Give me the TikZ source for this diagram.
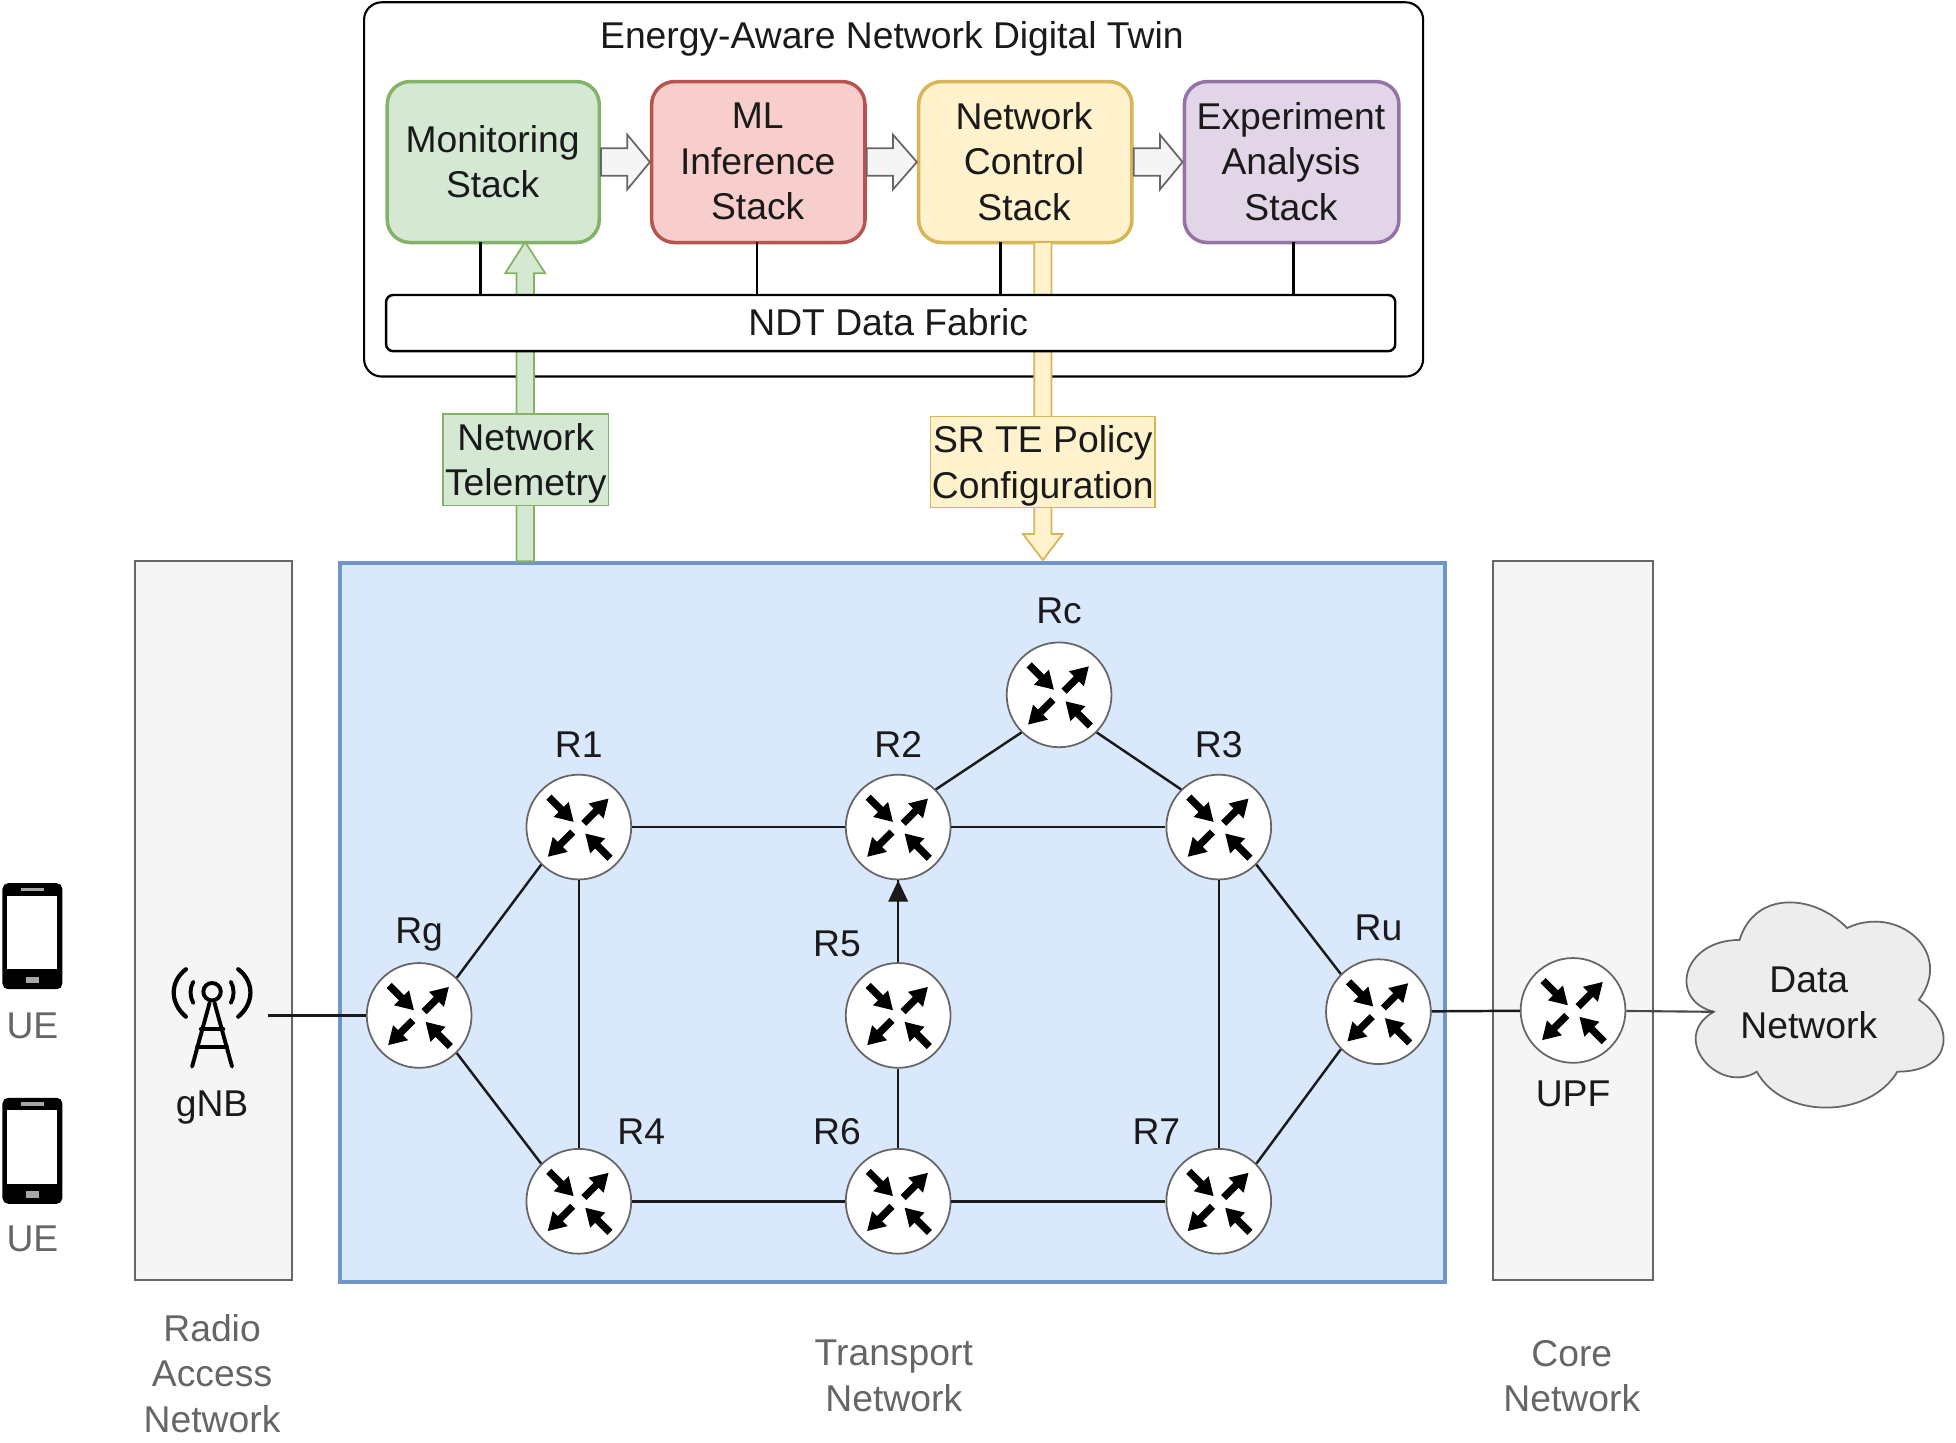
\documentclass[tikz,border=0pt]{standalone}
\usepackage{fontspec}
\setmainfont{Liberation Sans}
\usetikzlibrary{calc}
\definecolor{txt}{HTML}{1A1A1A}
\definecolor{graytxt}{HTML}{666666}
\definecolor{edgegray}{HTML}{666666}
\definecolor{gfill}{HTML}{D5E8D4}\definecolor{gline}{HTML}{82B366}
\definecolor{rfill}{HTML}{F8CECC}\definecolor{rline}{HTML}{B85450}
\definecolor{yfill}{HTML}{FFF2CC}\definecolor{yline}{HTML}{D6B656}
\definecolor{pfill}{HTML}{E1D5E7}\definecolor{pline}{HTML}{9673A6}
\definecolor{bfill}{HTML}{DAE8FC}\definecolor{bline}{HTML}{7096C9}
\definecolor{panelfill}{HTML}{F5F5F5}
\tikzset{
  x=0.012474cm,y=-0.012474cm,
  txtnode/.style={font=\fontsize{10.6}{12.9}\selectfont,text=txt,align=center,inner sep=0pt},
  graynode/.style={txtnode,text=graytxt},
  stackbox/.style={rounded corners=6.5pt,line width=1pt,anchor=north west,minimum width=#1*0.012474cm,minimum height=129*0.012474cm,inner sep=0pt},
  router/.style={circle,draw=edgegray,fill=white,line width=0.5pt,minimum size=84*0.012474cm,inner sep=0pt},
  panel/.style={draw=edgegray,fill=panelfill,line width=0.5pt},
  link/.style={draw=txt,line width=0.7pt},
  blockgray/.style={draw=edgegray,fill=panelfill,line width=0.5pt,line join=miter},
  routericon/.pic={
    \foreach \sx/\sy/\ang in {-24/-24/-45,4/-3/45,-5/4/-135,25/25/135}{
      \fill[black,shift={(\sx,\sy)},rotate=\ang]
        (0,-2.9) -- (14,-2.9) -- (14,-8.5) -- (28,0) -- (14,8.5) -- (14,2.9) -- (0,2.9) -- cycle;
    }
  },
  phoneicon/.pic={
    \fill[black,rounded corners=1.6pt] (0,0) rectangle (48,85);
    \fill[white] (4,10) rectangle (44,69);
    \fill[gray!70] (15,3.5) rectangle (33,6.5);
    \fill[gray!70] (19,75) rectangle (29,80);
  }
}
\newcommand{\hblock}[2]{\draw[blockgray]
  ($(#1.east)+(0,-11)$) -- ($(#1.east)+(21,-11)$) -- ($(#1.east)+(21,-22)$) -- (#2.west)
  -- ($(#1.east)+(21,22)$) -- ($(#1.east)+(21,11)$) -- ($(#1.east)+(0,11)$) -- cycle;}
\begin{document}
\begin{tikzpicture}
\useasboundingbox (0,0) rectangle (1568,1156);
% outer twin box
\node[draw=black,fill=white,rounded corners=5pt,line width=0.6pt,anchor=north west,minimum width=849*0.012474cm,minimum height=300*0.012474cm,inner sep=0pt] (twin) at (291,1) {};
\node[txtnode] (title) at (715,31) {Energy-Aware Network Digital Twin};
% panels
\filldraw[panel] (108,450) rectangle (234,1026);
\filldraw[panel] (1197,450) rectangle (1325,1026);
\node[draw=bline,fill=bfill,line width=1.1pt,anchor=north west,minimum width=886*0.012474cm,minimum height=576*0.012474cm,inner sep=0pt] (transport) at (271,450) {};
% stacks
\node[stackbox=170,draw=gline,fill=gfill] (mon) at (309,64) {};
\node[txtnode] (montxt) at ($(mon.center)+(-0.5,-0.5)$) {Monitoring\\Stack};
\node[stackbox=171,draw=rline,fill=rfill] (ml) at (521,64) {};
\node[txtnode] (mltxt) at ($(ml.center)+(-0.5,-0.5)$) {ML\\Inference\\Stack};
\node[stackbox=171,draw=yline,fill=yfill] (ctl) at (735,64) {};
\node[txtnode] (ctltxt) at ($(ctl.center)+(-1,-0.5)$) {Network\\Control\\Stack};
\node[stackbox=172,draw=pline,fill=pfill] (exp) at (948,64) {};
\node[txtnode] (exptxt) at ($(exp.center)+(-0.5,-0.5)$) {Experiment\\Analysis\\Stack};
\hblock{mon}{ml}
\hblock{ml}{ctl}
\hblock{ctl}{exp}
% telemetry and policy arrows
\coordinate (gbase) at (421,450);
\coordinate (ghead) at (421,194);
\draw[draw=gline,fill=gfill,line width=0.5pt]
  ($(gbase)+(-7,0)$) -- ($(ghead)+(-7,25)$) -- ($(ghead)+(-16,25)$) -- (ghead) -- ($(ghead)+(16,25)$) -- ($(ghead)+(7,25)$) -- ($(gbase)+(7,0)$) -- cycle;
\coordinate (ybase) at (836,194);
\coordinate (yhead) at (836,449);
\draw[draw=yline,fill=yfill,line width=0.5pt]
  ($(ybase)+(-7,0)$) -- ($(yhead)+(-7,-21)$) -- ($(yhead)+(-16,-21)$) -- (yhead) -- ($(yhead)+(16,-21)$) -- ($(yhead)+(7,-21)$) -- ($(ybase)+(7,0)$) -- cycle;
% data fabric
\node[draw=black,fill=white,rounded corners=2pt,line width=0.7pt,anchor=north west,minimum width=809*0.012474cm,minimum height=45*0.012474cm,inner sep=0pt] (fabric) at (308.5,235.5) {};
\node[txtnode] (fabrictxt) at (712,258) {NDT Data Fabric};
\coordinate (f1) at (385,236);\coordinate (m1) at (385,194);
\coordinate (f2) at (607,236);\coordinate (m2) at (607,194);
\coordinate (f3) at (802,236);\coordinate (m3) at (802,194);
\coordinate (f4) at (1037,236);\coordinate (m4) at (1037,194);
\draw[draw=black,line width=0.7pt] (m1)--(f1) (m2)--(f2) (m3)--(f3) (m4)--(f4);
% labels on arrows
\node[draw=gline,fill=gfill,line width=0.4pt,minimum width=133*0.012474cm,minimum height=73*0.012474cm,inner sep=0pt] (tele) at (421.5,368.5) {};
\node[txtnode] (teletxt) at (421.5,371.5) {Network\\Telemetry};
\node[draw=yline,fill=yfill,line width=0.4pt,minimum width=180*0.012474cm,minimum height=73*0.012474cm,inner sep=0pt] (srte) at (836,370.5) {};
\node[txtnode] (srtetxt) at (836,373.5) {SR TE Policy\\Configuration};
% routers
\node[router] (Rc) at (849,557) {};
\node[router] (R1) at (464,663) {};
\node[router] (R2) at (720,663) {};
\node[router] (R3) at (977,663) {};
\node[router] (Rg) at (336,814) {};
\node[router] (R5) at (720,814) {};
\node[router] (Ru) at (1105,811) {};
\node[router] (UPF) at (1261,810) {};
\node[router] (R4) at (464,963) {};
\node[router] (R6) at (720,963) {};
\node[router] (R7) at (977,963) {};
\foreach \n in {Rc,R1,R2,R3,Rg,R5,Ru,UPF,R4,R6,R7}{\pic at (\n) {routericon};}
\foreach \a/\b in {Rg.45/R1.225,Rg.-45/R4.135,R2.45/Rc.225,Rc.-45/R3.135,R3.-45/Ru.135,Ru.-135/R7.45,R1/R2,R1/R4,R2/R3,R3/R7,R4/R6,R6/R7,R6/R5,R5/R2,Ru/UPF}{\draw[link] (\a)--(\b);}
\fill[txt] (R2.south) -- ++(8,17) -- ++(-16,0) -- cycle;
\node[txtnode] (lRc) at (849,490) {Rc};
\node[txtnode] (lR1) at (464,597) {R1};
\node[txtnode] (lR2) at (720,597) {R2};
\node[txtnode] (lR3) at (977,597) {R3};
\node[txtnode] (lRg) at (336,749) {Rg};
\node[txtnode] (lR5) at (671,757) {R5};
\node[txtnode] (lRu) at (1105,744) {Ru};
\node[txtnode] (lR4) at (514,907) {R4};
\node[txtnode] (lR6) at (671,907) {R6};
\node[txtnode] (lR7) at (927,907) {R7};
\node[txtnode] (lUPF) at (1261,877) {UPF};
% cloud
\begin{scope}[shift={(1337,705.5)},x=230*0.012474cm,y=-192*0.012474cm]
\draw[draw=edgegray,fill=black!7,line width=0.5pt] (.25,.25) .. controls (.05,.25) and (0,.5) .. (.16,.55)
 .. controls (0,.66) and (.18,.9) .. (.31,.8) .. controls (.4,1) and (.7,1) .. (.8,.8)
 .. controls (1,.8) and (1,.6) .. (.875,.5) .. controls (1,.3) and (.8,.1) .. (.625,.2)
 .. controls (.5,.05) and (.3,.05) .. (.25,.25) -- cycle;
\coordinate (cloudport) at (.16,.55);
\end{scope}
\node[txtnode] (cloudtxt) at (1450,804) {Data\\Network};
\draw[link,draw=txt!80,line width=0.6pt] (UPF) -- (cloudport);
% gNB
\coordinate (gnbc) at (170,795);
\coordinate (gnbport) at (215,814);
\draw[link] (gnbport) -- (Rg);
\begin{scope}[shift={(gnbc)},draw=black,line width=1.1pt,line cap=round]
\draw (0,0) circle[radius=7];
\draw (-2,9) -- (-16,60) (2,9) -- (16,60);
\draw (-9,30) -- (9,30) (-12,44) -- (12,44);
\foreach \s in {-1,1}{
 \draw[line width=1.2pt] (\s*21,-18) .. controls (\s*34,-8) and (\s*34,9) .. (\s*21,20);
 \draw (\s*15,-8) .. controls (\s*18,-3) and (\s*18,4) .. (\s*15,9);
}
\end{scope}
\node[txtnode] (gnbl) at (170,888) {gNB};
% phones
\pic at (2,708) {phoneicon};
\pic at (2,880) {phoneicon};
\node[graynode] (ue1) at (26,822) {UE};
\node[graynode] (ue2) at (26,993) {UE};
% captions
\node[graynode] (ran) at (170,1101) {Radio\\Access\\Network};
\node[graynode] (tn) at (716.5,1103) {Transport\\Network};
\node[graynode] (cn) at (1260,1103) {Core\\Network};
\end{tikzpicture}
\end{document}
